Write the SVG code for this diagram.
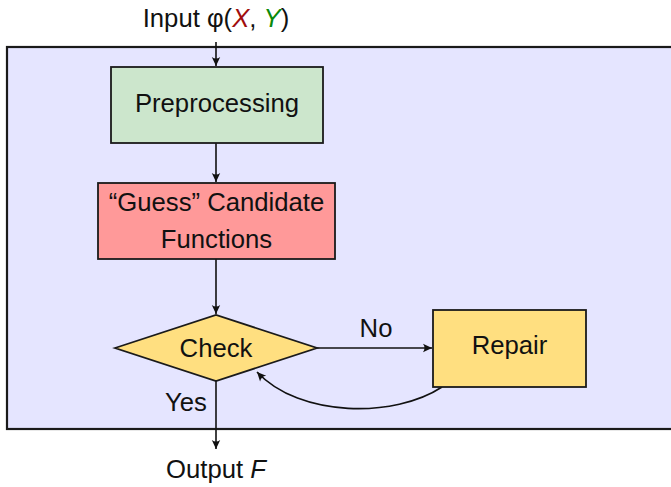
<svg xmlns="http://www.w3.org/2000/svg" width="671" height="487" viewBox="0 0 671 487">
  <style>
    text { font-family: "Liberation Sans", Arial, sans-serif; font-size: 25.7px; fill: #111; }
    .mid { text-anchor: middle; }
    .box { stroke: #1a1a1a; stroke-width: 1.8; }
    .edge { fill: none; stroke: #111; stroke-width: 1.6; }
    .var { font-style: italic; }
  </style>
  <defs>
    <marker id="head" markerUnits="userSpaceOnUse" markerWidth="12" markerHeight="10" viewBox="-10 -5 12 10" refX="0" refY="0" orient="auto">
      <path d="M0,0 L-9,-4.2 Q-6,0 -9,4.2 Z" fill="#111"/>
    </marker>
  </defs>

  <!-- enclosing process frame -->
  <rect x="7" y="47" width="670" height="382" fill="#e5e5ff" stroke="#1a1a1a" stroke-width="2.2"/>

  <g id="connectors">
    <line class="edge" x1="216" y1="42" x2="216" y2="66" marker-end="url(#head)"/>
    <line class="edge" x1="216" y1="143" x2="216" y2="182" marker-end="url(#head)"/>
    <line class="edge" x1="216" y1="259" x2="216" y2="314" marker-end="url(#head)"/>
    <line class="edge" x1="317" y1="348" x2="432" y2="348" marker-end="url(#head)"/>
    <path class="edge" d="M442,387 C395,418 300,418 257,372" marker-end="url(#head)"/>
    <line class="edge" x1="216" y1="381" x2="216" y2="449" marker-end="url(#head)"/>
    <text class="mid" x="376" y="337">No</text>
    <text class="mid" x="186" y="411">Yes</text>
  </g>

  <g id="input">
    <text class="mid" x="216" y="27">Input φ(<tspan class="var" fill="#a00d0d">X</tspan>, <tspan class="var" fill="#0a8a0a">Y</tspan>)</text>
  </g>

  <g id="preprocessing">
    <rect class="box" x="111" y="67" width="212" height="76" fill="#cce6cc"/>
    <text class="mid" x="217" y="112">Preprocessing</text>
  </g>

  <g id="guess">
    <rect class="box" x="98" y="183" width="237" height="76" fill="#ff9999"/>
    <text class="mid" x="216.5" y="211">“Guess” Candidate</text>
    <text class="mid" x="216.5" y="248">Functions</text>
  </g>

  <g id="check">
    <polygon class="box" points="115,348 216,315 317,348 216,381" fill="#ffdf80"/>
    <text class="mid" x="216" y="357">Check</text>
  </g>

  <g id="repair">
    <rect class="box" x="433" y="310" width="153" height="77" fill="#ffdf80"/>
    <text class="mid" x="509.5" y="354">Repair</text>
  </g>

  <g id="output">
    <text class="mid" x="216" y="478">Output <tspan class="var">F</tspan></text>
  </g>
</svg>
